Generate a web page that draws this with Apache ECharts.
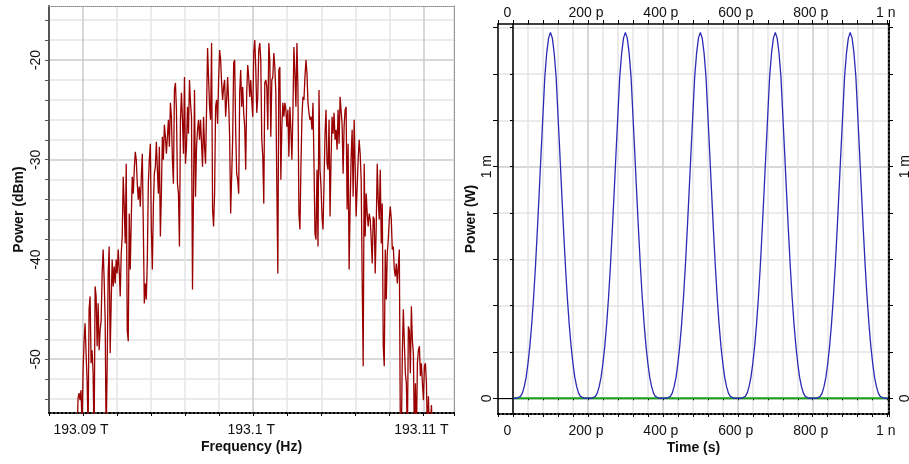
<!DOCTYPE html>
<html><head><meta charset="utf-8">
<script src="https://cdn.jsdelivr.net/npm/echarts@6/dist/echarts.min.js"></script>
<style>html,body{margin:0;padding:0;background:#fff}#c{width:909px;height:464px}</style>
</head><body><div id="c"></div>
<script>
// ---------- Left chart: optical spectrum ----------
const spectrumStartGHz = 193089.648;   // first sample frequency (GHz)
const spectrumStepGHz = 0.059;         // sample spacing (GHz)
const spectrumDbm = [
-58,
-53.9,-53.4,-54.1,-53.1,-57,-51.1,-48.2,-46.4,-49.4,-52.1,
-57,-45.0,-43.7,-50.4,-49.1,-51.4,-58,-42.7,-43.7,-48.7,
-44.4,-49.1,-47.1,-46.1,-41.4,-39.0,-42.0,-46.1,-58,-50.7,
-41.4,-38.7,-49.4,-44.4,-40.0,-42.7,-40.7,-42.4,-40.0,-41.4,
-39.0,-41.0,-43.7,-39.4,-37.7,-31.7,-34.7,-38.4,-30.4,-47.1,
-48.2,-35.4,-41.0,-36.0,-31.7,-33.4,-31.0,-29.2,-30.0,-32.4,
-34.0,-32.7,-34.7,-31.7,-29.4,-36.7,-44.4,-42.4,-44.0,-40.0,
-32.4,-30.0,-28.4,-37.0,-41.0,-34.7,-31.4,-30.7,-28.2,-31.0,
-33.4,-28.7,
-37.7,-33.4,-27.7,-30.0,-26.5,-27.7,-29.4,-27.7,-26.0,-28.7,
-24.3,-25.7,-30.0,-32.4,-23.0,-22.3,-25.0,-32.4,-33.4,-38.7,
-26.0,-23.3,-26.0,-29.4,-21.7,-30.4,-28.7,-24.7,-27.4,-22.0,
-24.3,-25.7,-43.0,-33.0,-23.0,-33.7,-28.7,-27.0,-26.0,-28.0,
-26.0,-28.4,-30.7,-25.7,-28.7,-30.4,-25.0,-18.8,-21.8,-24.7,
-26.0,-18.3,-35.0,-36.7,-33.4,-24.7,-24.0,-26.4,-22.0,-19.0,
-20.0,-22.3,-24.0,-22.7,-22.0,-25.7,-24.0,-21.7,-24.3,-27.7,
-35.4,-35.5,-28.0,-20.3,-20.0,-27.0,-31.4,-32.0,-33.4,-23.3,
-21.0,-24.7,-22.7,-25.3,-26.7,-31.0,-23.3,-20.5,-21.7,-23.7,
-22.0,-24.0,-25.7,-19.3,-18.0,-20.7,-25.3,-23.7,-19.0,-18.3,
-20.0,-28.0,-29.7,-34.4,-22.3,-22.0,-22.7,-27.0,-18.3,-20.0,
-27.7,-22.0,-21.7,-19.3,-20.7,-23.3,-32.7,-41.4,-21.0,-20.7,
-32.0,-26.7,-24.3,-25.7,-24.3,-25.0,-26.7,-25.0,-29.7,-24.7,
-27.0,-30.0,-25.3,-18.7,-21.3,-24.7,-18.3,-22.7,-35.4,-37.0,
-30.7,-25.7,-23.7,-24.0,-21.7,-20.0,-21.3,-24.3,-25.3,-26.0,
-25.7,-27.0,-24.3,-30.4,-37.4,-38.0,-31.0,-38.7,-23.0,-31.0,
-32.7,-35.7,-37.0,-32.4,-27.4,-25.0,-30.4,-31.0,-26.0,-35.7,
-30.0,-25.7,-27.4,-25.3,-28.0,-27.0,-29.0,-25.0,-28.4,-23.7,
-23.7,-26.4,-31.4,-26.7,-25.0,-24.7,-35.0,-28.4,-41.0,-34.7,
-29.7,-27.0,-33.7,-26.0,-30.7,-35.7,-32.7,-30.0,-28.0,-29.4,
-32.0,-42.0,-50.7,-30.4,-37.7,-33.4,-35.4,-36.7,-35.4,-36.0,
-38.0,-40.4,-35.7,-36.0,-41.4,-36.7,-30.4,-34.0,-36.0,-31.0,
-38.4,-34.4,-48.7,-50.7,-39.0,-44.0,-39.4,-38.0,-36.0,-34.7,
-36.0,-39.0,-38.7,-41.0,-41.7,-40.4,-42.4,-40.7,-39.0,-57,
-58,-49.4,-45.0,-48.4,-51.4,-52.4,-58,-46.7,-47.1,-51.4,
-44.7,-48.1,-49.4,-58,-52.4,-58,-50.4,-49.1,-48.7,-51.7,
-50.4,-52.4,-54.1,-50.7,-50.4,-52.4,-58,-53.7,-58,-58,
-54.6,-58
];
const leftXTickLabelsGHz = [193090, 193100, 193110];
const leftYTickValues = [-54,-52,-50,-48,-46,-44,-42,-40,-38,-36,-34,-32,-30,-28,-26,-24,-22,-20,-18,-16];
const leftYLabelValues = [-50,-40,-30,-20];

// ---------- Right chart: time-domain power ----------
const pulseTimeStepPs = 5;
const pulsePowerMw = [
0,0,0,0.002,0.008,0.022,0.05,0.09,0.15,0.225,0.32,0.435,0.57,0.725,0.89,1.06,1.225,1.39,1.49,1.555,
1.58,1.555,1.49,1.39,1.225,1.06,0.89,0.725,0.57,0.435,0.32,0.225,0.15,0.09,0.05,0.022,0.008,0.002,0,0,
0,0,0,0.002,0.008,0.022,0.05,0.09,0.15,0.225,0.32,0.435,0.57,0.725,0.89,1.06,1.225,1.39,1.49,1.555,
1.58,1.555,1.49,1.39,1.225,1.06,0.89,0.725,0.57,0.435,0.32,0.225,0.15,0.09,0.05,0.022,0.008,0.002,0,0,
0,0,0,0.002,0.008,0.022,0.05,0.09,0.15,0.225,0.32,0.435,0.57,0.725,0.89,1.06,1.225,1.39,1.49,1.555,
1.58,1.555,1.49,1.39,1.225,1.06,0.89,0.725,0.57,0.435,0.32,0.225,0.15,0.09,0.05,0.022,0.008,0.002,0,0,
0,0,0,0.002,0.008,0.022,0.05,0.09,0.15,0.225,0.32,0.435,0.57,0.725,0.89,1.06,1.225,1.39,1.49,1.555,
1.58,1.555,1.49,1.39,1.225,1.06,0.89,0.725,0.57,0.435,0.32,0.225,0.15,0.09,0.05,0.022,0.008,0.002,0,0,
0,0,0,0.002,0.008,0.022,0.05,0.09,0.15,0.225,0.32,0.435,0.57,0.725,0.89,1.06,1.225,1.39,1.49,1.555,
1.58,1.555,1.49,1.39,1.225,1.06,0.89,0.725,0.57,0.435,0.32,0.225,0.15,0.09,0.05,0.022,0.008,0.002,0,0,
0
];
const greenTimePs = [0, 1000];
const greenPowerMw = [0, 0];
const rightXTickLabels = {0:'0', 200:'200 p', 400:'400 p', 600:'600 p', 800:'800 p', 1000:'1 n'};
const rightYTickValues = [0,0.2,0.4,0.6,0.8,1.0,1.2,1.4,1.6];
const rightYLabelValues = [0, 1];
const rightYTickLabels = {0:'0', 1:'1 m'};

// ---------- build ----------
const font = 'Liberation Sans, Arial, sans-serif';
const minorC = '#e4e4e4', majorC = '#cbcbcb';
const txt = {fontSize:14, color:'#111', fontFamily:font};
const nameTxt = {fontSize:14, color:'#111', fontFamily:font, fontWeight:'bold'};
const xRich = {a:{...txt, padding:[0,4,0,0]}, z:{...txt, padding:[0,11,0,0]}};

const spectrumData = spectrumDbm.map((v,i)=>[spectrumStartGHz + i*spectrumStepGHz, v]);
const pulseData = pulsePowerMw.map((v,i)=>[i*pulseTimeStepPs, v]);
const greenData = greenTimePs.map((t,i)=>[t, greenPowerMw[i]]);

function fmtFreq(v){
  for (const f of leftXTickLabelsGHz) if (Math.abs(v-f)<1e-6) return '{a|'+(f/1000)+' T}';
  return '';
}
function fmtTime(v){
  for (const k in rightXTickLabels) if (Math.abs(v-Number(k))<1e-6)
    return (Number(k)===0 ? '{z|' : '{a|') + rightXTickLabels[k] + '}';
  return '';
}
function fmtPow(v){
  for (const k in rightYTickLabels) if (Math.abs(v-Number(k))<1e-9) return rightYTickLabels[k];
  return '';
}

const L = {min:193088, max:193111.8};
const LY = {min:-55.39, max:-14.59};
const R = {min:-40, max:1003.5};
const RY = {min:-0.068, max:1.616};

const option = {
  animation:false,
  backgroundColor:'#fff',
  grid:[
    {left:49, top:6, width:405, height:407, outerBoundsMode:'none', containLabel:false},
    {left:498, top:24, width:391, height:390, outerBoundsMode:'none', containLabel:false}
  ],
  xAxis:[
    {gridIndex:0, type:'value', position:'bottom', min:L.min, max:L.max, interval:2,
     axisLine:{show:true, onZero:false, lineStyle:{color:'#000', type:'dotted', width:2}},
     axisTick:{show:true, length:3, lineStyle:{color:'#000'}},
     axisLabel:{formatter:fmtFreq, margin:10, rich:xRich, ...txt},
     splitLine:{show:true, lineStyle:{color:[minorC, majorC, minorC, minorC, minorC], width:1.5}},
     name:'Frequency (Hz)', nameLocation:'middle', nameGap:27, nameMoveOverlap:false, nameTextStyle:nameTxt},
    {gridIndex:0, type:'value', position:'top', min:L.min, max:L.max, interval:2,
     axisLine:{show:true, onZero:false, lineStyle:{color:'#888', type:'dotted', width:1}},
     axisTick:{show:false}, axisLabel:{show:false}, splitLine:{show:false}},
    {gridIndex:1, type:'value', position:'bottom', min:R.min, max:R.max, interval:40,
     axisLine:{show:true, onZero:false, lineStyle:{color:'#000', type:'dotted', width:2}},
     axisTick:{show:true, length:3, lineStyle:{color:'#000'}},
     axisLabel:{formatter:fmtTime, margin:10, rich:xRich, ...txt},
     splitLine:{show:true, lineStyle:{color:[minorC, majorC, minorC, minorC, minorC], width:1.5}},
     name:'Time (s)', nameLocation:'middle', nameGap:27, nameMoveOverlap:false, nameTextStyle:nameTxt},
    {gridIndex:1, type:'value', position:'top', min:R.min, max:R.max, interval:40,
     axisLine:{show:true, onZero:false, lineStyle:{color:'#000', width:1.5}},
     axisTick:{show:true, length:4, lineStyle:{color:'#000'}},
     axisLabel:{formatter:fmtTime, margin:4, rich:xRich, ...txt},
     splitLine:{show:false}},
    {gridIndex:1, type:'value', position:'bottom', min:R.min, max:R.max, interval:40,
     axisLine:{show:true, onZero:true, lineStyle:{color:'#000', width:1}},
     axisTick:{show:true, length:2, lineStyle:{color:'#000'}},
     axisLabel:{show:false}, splitLine:{show:false}}
  ],
  yAxis:[
    {gridIndex:0, type:'value', position:'left', min:LY.min, max:LY.max,
     axisLine:{show:true, onZero:false, lineStyle:{color:'#555', width:2}},
     axisTick:{show:true, length:4, customValues:leftYTickValues, lineStyle:{color:'#555'}},
     axisLabel:{customValues:leftYLabelValues, rotate:90, margin:6, ...txt},
     splitLine:{show:true, lineStyle:{color:[minorC, minorC, majorC, minorC, minorC], width:1.5}},
     name:'Power (dBm)', nameLocation:'middle', nameGap:23, nameRotate:90, nameMoveOverlap:false, nameTextStyle:nameTxt},
    {gridIndex:0, type:'value', position:'right', min:LY.min, max:LY.max,
     axisLine:{show:true, onZero:false, lineStyle:{color:'#888', type:'dotted', width:1}},
     axisTick:{show:false}, axisLabel:{show:false}, splitLine:{show:false}},
    {gridIndex:1, type:'value', position:'left', min:RY.min, max:RY.max,
     axisLine:{show:true, onZero:false, lineStyle:{color:'#000', width:1.5}},
     axisTick:{show:true, length:5, customValues:rightYTickValues, lineStyle:{color:'#000'}},
     axisLabel:{customValues:rightYLabelValues, formatter:fmtPow, rotate:90, margin:4, ...txt},
     splitLine:{show:true, lineStyle:{color:[majorC, minorC, minorC, minorC, minorC], width:1.5}},
     name:'Power (W)', nameLocation:'middle', nameGap:20, nameRotate:90, nameMoveOverlap:false, nameTextStyle:nameTxt},
    {gridIndex:1, type:'value', position:'right', min:RY.min, max:RY.max,
     axisLine:{show:true, onZero:false, lineStyle:{color:'#000', type:'dotted', width:2}},
     axisTick:{show:true, length:4, customValues:rightYTickValues, lineStyle:{color:'#000'}},
     axisLabel:{customValues:rightYLabelValues, formatter:fmtPow, rotate:90, margin:9, ...txt},
     splitLine:{show:false}},
    {gridIndex:1, type:'value', position:'left', min:RY.min, max:RY.max,
     axisLine:{show:true, onZero:true, lineStyle:{color:'#000', width:1.5}},
     axisTick:{show:true, length:3, customValues:rightYTickValues, lineStyle:{color:'#000'}},
     axisLabel:{show:false}, splitLine:{show:false}}
  ],
  series:[
    {type:'line', xAxisIndex:0, yAxisIndex:0, data:spectrumData, symbol:'none', showSymbol:false,
     lineStyle:{color:'#9a0000', width:1.3}, itemStyle:{color:'#9a0000'}, clip:true, z:3},
    {type:'line', xAxisIndex:2, yAxisIndex:2, data:greenData, symbol:'none', showSymbol:false,
     lineStyle:{color:'#1aa01a', width:2}, itemStyle:{color:'#1aa01a'}, clip:true, z:3},
    {type:'line', xAxisIndex:2, yAxisIndex:2, data:pulseData, symbol:'none', showSymbol:false,
     lineStyle:{color:'#2b2bb5', width:1.3}, itemStyle:{color:'#2b2bb5'}, clip:true, z:4}
  ]
};
const chart = echarts.init(document.getElementById('c'), null, {renderer:'canvas'});
chart.setOption(option);
</script>
</body></html>
